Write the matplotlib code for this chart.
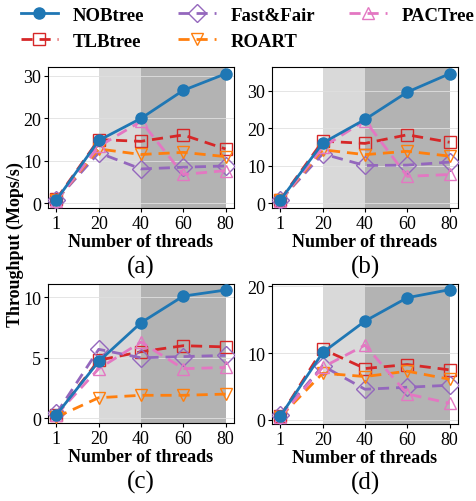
import matplotlib
matplotlib.use('Agg')
import matplotlib.pyplot as plt
import numpy as np

plt.rcParams['font.family'] = ['Liberation Serif', 'DejaVu Serif']

# Data
threads = ['1', '20', '40', '60', '80']
series_names = ['NOBtree', 'TLBtree', 'Fast&Fair', 'ROART', 'PACTree']

nob_a = [0.8, 14.8, 20.0, 26.6, 30.5]
tlb_a = [1.0, 15.0, 14.6, 16.1, 12.8]
ff_a = [0.8, 11.9, 8.1, 8.5, 8.8]
roart_a = [0.8, 12.8, 11.5, 12.0, 11.0]
pac_a = [0.6, 13.4, 19.3, 6.8, 7.7]

nob_b = [0.9, 16.1, 22.4, 29.7, 34.6]
tlb_b = [1.0, 16.6, 16.0, 18.3, 16.3]
ff_b = [0.9, 13.2, 10.1, 10.2, 11.0]
roart_b = [0.8, 14.3, 13.0, 13.9, 12.6]
pac_b = [0.7, 15.0, 22.1, 7.2, 7.7]

nob_c = [0.3, 4.7, 7.9, 10.1, 10.6]
tlb_c = [0.3, 4.8, 5.5, 6.0, 5.9]
ff_c = [0.4, 5.7, 5.0, 5.1, 5.2]
roart_c = [0.1, 1.7, 1.9, 1.9, 2.0]
pac_c = [0.3, 4.1, 6.3, 4.1, 4.2]

nob_d = [0.6, 10.1, 14.8, 18.3, 19.5]
tlb_d = [0.6, 10.6, 7.7, 8.3, 7.5]
ff_d = [0.7, 8.1, 4.6, 4.9, 5.2]
roart_d = [0.5, 7.0, 6.5, 7.3, 6.1]
pac_d = [0.5, 7.9, 11.2, 3.9, 2.5]

panels = [
    ('(a)', [nob_a, tlb_a, ff_a, roart_a, pac_a], (-1.1, 32.1), [0, 10, 20, 30]),
    ('(b)', [nob_b, tlb_b, ff_b, roart_b, pac_b], (-1.25, 36.4), [0, 10, 20, 30]),
    ('(c)', [nob_c, tlb_c, ff_c, roart_c, pac_c], (-0.39, 11.1), [0, 5, 10]),
    ('(d)', [nob_d, tlb_d, ff_d, roart_d, pac_d], (-0.6, 20.35), [0, 10, 20]),
]

colors = ['#1f77b4', '#d62728', '#9467bd', '#ff7f0e', '#e377c2']
markers = ['o', 's', 'D', 'v', '^']

W, H = 476, 502
fig = plt.figure(figsize=(W / 100, H / 100), dpi=100)

# axes boxes in pixels: left, top, width, height
boxes = [(48, 68, 186, 141), (272, 68, 186, 141),
         (48, 285, 186, 139), (272, 285, 186, 140)]

x = np.arange(len(threads))
handles = []
for i, (label, data, ylim, yticks) in enumerate(panels):
    l, t, w, h = boxes[i]
    ax = fig.add_axes([l / W, 1 - (t + h) / H, w / W, h / H])
    ax.axvspan(1, 2, color='#d9d9d9', lw=0, zorder=0)
    ax.axvspan(2, 4, color='#b3b3b3', lw=0, zorder=0)
    ax.grid(axis='y', color='#e0e0e0', lw=0.6, zorder=0.5)
    ax.set_axisbelow(True)
    for j, vals in enumerate(data):
        if j == 0:
            ln, = ax.plot(x, vals, color=colors[j], marker='o', ms=8, lw=2,
                          label=series_names[j], zorder=5)
        else:
            ln, = ax.plot(x, vals, color=colors[j], marker=markers[j], ms=9,
                          mfc='none', mew=1.0, lw=2, ls='--',
                          dashes=(4, 2.5), label=series_names[j], zorder=3)
        if i == 0:
            handles.append(ln)
    ax.set_xlim(-0.2, 4.2)
    ax.set_ylim(*ylim)
    ax.set_xticks(x)
    ax.set_xticklabels(threads)
    ax.set_yticks(yticks)
    ax.tick_params(labelsize=13, length=3, pad=2)
    ax.set_xlabel('Number of threads', fontsize=13, fontweight='bold', labelpad=1)
    fig.text((l + w / 2) / W, 1 - (t + h + 58) / H, label, fontsize=18,
             ha='center', va='center')

fig.text(15 / W, 1 - 245 / H, 'Throughput (Mops/s)', rotation=90, fontsize=13,
         fontweight='bold', ha='center', va='center')

fig.legend(handles=handles, loc='upper center', bbox_to_anchor=(0.52, 1.018),
           ncol=3, frameon=False, prop={'size': 13.5, 'weight': 'bold'},
           handlelength=2.0, handletextpad=0.8, columnspacing=1.8,
           labelspacing=0.45)

fig.savefig('out.png', dpi=100)
